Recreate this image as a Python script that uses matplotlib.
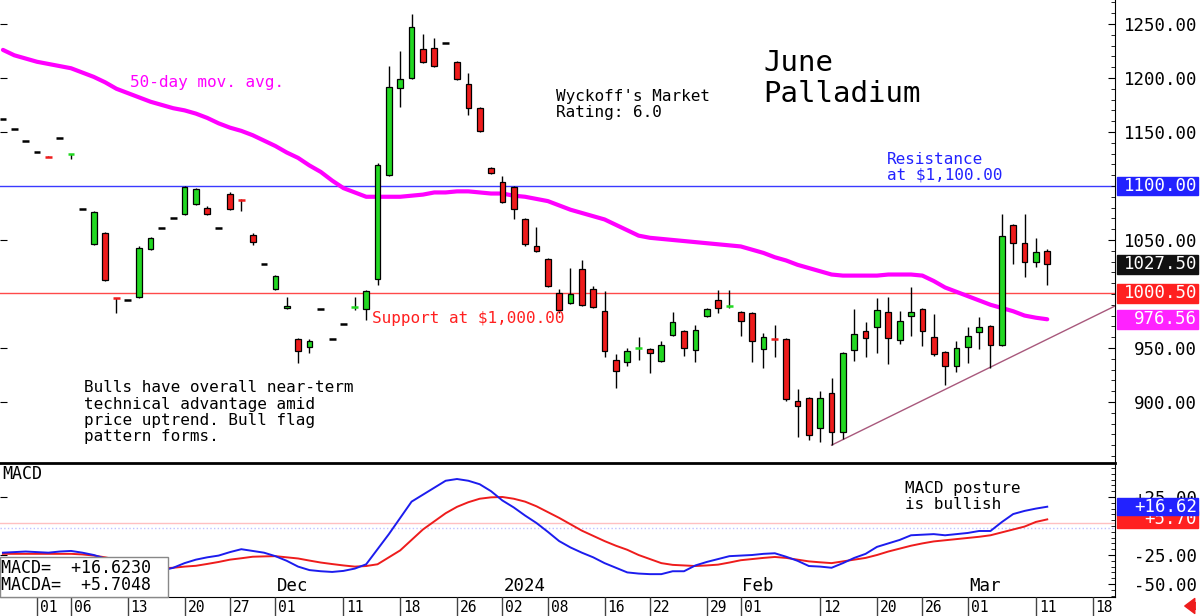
# June Palladium daily candles with 50-day MA and MACD panel
import matplotlib.pyplot as plt
from matplotlib.patches import Rectangle, FancyArrowPatch
from matplotlib.ticker import MultipleLocator, FixedLocator, FuncFormatter
from matplotlib.transforms import blended_transform_factory

plt.rcParams['font.family'] = ['DejaVu Sans Mono', 'DejaVu Sans']

# ---- data, one entry per trading day ----
opens = [1162, 1153, 1142, 1131, 1128, 1144, 1129.5, 1079, 1046, 1056,
         996.5, 994, 997, 1042, 1061, 1070, 1074, 1083, 1080, 1061,
         1093, 1087.5, 1055, 1028, 1005, 987, 958, 951, 986, 958,
         972, 987.5, 986, 1014, 1110, 1191, 1200, 1227, 1228, 1232,
         1215, 1194, 1172, 1117, 1104, 1099, 1069, 1044, 1032, 1001,
         992, 1023, 1005, 984, 939, 937, 949.5, 949, 938, 962,
         966, 948, 980, 994, 988.5, 983, 982, 949, 958.5, 958,
         901, 904, 876, 908, 872, 948, 966, 969, 983, 957,
         980, 986, 960, 946, 933, 951, 965, 970, 953, 1064,
         1047, 1030, 1040]
highs = [1162, 1153, 1142, 1131, 1128, 1144, 1130, 1079, 1077, 1057,
         996.5, 994, 1044, 1053, 1061, 1070, 1100, 1098, 1081, 1061,
         1094, 1087.5, 1056, 1028, 1018, 997, 959, 958, 986, 958,
         972, 997, 1004, 1121, 1211, 1225, 1259, 1241, 1237, 1232,
         1216, 1205, 1173, 1118, 1109, 1100, 1070, 1062, 1033, 1005,
         1024, 1031, 1007, 1003, 944, 950, 960, 950, 956, 983,
         967, 971, 987, 1004, 1004, 984, 983, 964, 971, 959,
         912, 905, 910, 922, 946, 986, 974, 996, 997, 984,
         1006, 987, 981, 947, 956, 969, 979, 971, 1074, 1065,
         1074, 1052, 1042]
lows = [1162, 1153, 1142, 1131, 1126.5, 1144, 1125, 1079, 1045, 1012,
        982, 994, 996, 1041, 1061, 1070, 1073, 1082, 1073, 1061,
        1078, 1077, 1045, 1028, 1004, 986, 936, 945, 986, 958,
        972, 985, 976, 1008, 1109, 1173, 1199, 1214, 1210, 1232,
        1198, 1166, 1150, 1111, 1084, 1069, 1044, 1039, 1006, 982,
        991, 989, 987, 942, 913, 933, 939, 927, 937, 961,
        943, 937, 979, 982, 987, 961, 937, 931, 942, 901,
        868, 865, 863, 860, 866, 938, 942, 945, 935, 954,
        961, 952, 943, 916, 928, 936, 949, 931, 952, 1028,
        1016, 1025, 1008]
closes = [1162, 1153, 1142, 1131, 1127, 1144, 1130, 1079, 1076, 1013,
          996, 994, 1043, 1052, 1061, 1070, 1099, 1097, 1074, 1061,
          1079, 1087, 1048, 1028, 1017, 989, 947, 956, 986, 958,
          972, 988, 1003, 1119, 1192, 1199, 1247, 1215, 1211, 1232,
          1199, 1172, 1151, 1112, 1085, 1079, 1046, 1040, 1007, 985,
          1000, 990, 988, 947, 929, 947, 950, 945, 953, 974,
          950, 967, 986, 987, 989, 975, 956, 960, 958, 903,
          896, 869, 904, 872, 945, 963, 959, 985, 959, 975,
          983, 966, 944, 933, 950, 961, 969, 953, 1054, 1047,
          1030, 1039, 1027.5]
ma50 = [1226, 1221, 1218, 1215, 1213, 1211, 1209, 1205, 1201, 1196,
        1190, 1186, 1182, 1178, 1175, 1172, 1170, 1167, 1163, 1158,
        1154, 1151, 1147, 1142, 1137, 1131, 1126, 1119, 1113, 1105,
        1098, 1094, 1090, 1090, 1090, 1090, 1091, 1092, 1094, 1094,
        1095, 1095, 1094, 1093, 1093, 1091, 1090, 1088, 1086, 1082,
        1078, 1075, 1072, 1069, 1064, 1059, 1054, 1052, 1051, 1050,
        1049, 1048, 1047, 1046, 1045, 1044, 1041, 1038, 1034, 1031,
        1027, 1024, 1021, 1018, 1017, 1017, 1017, 1017, 1018, 1018,
        1018, 1017, 1012, 1006, 1002, 998, 994, 990, 987, 984,
        980, 978, 976.56]
macd = [-23, -22.5, -22, -22.5, -23, -22, -21.5, -23, -25, -28,
        -31, -34, -36, -38.5, -38.5, -36, -32, -29, -27, -25.5,
        -22.5, -20, -21.5, -23, -26, -30, -35, -38, -39, -39.6,
        -38.7, -36.7, -33, -20, -7, 7, 21, 27, 33, 39,
        40.5, 39, 36, 30, 22, 16, 9, 2.6, -5, -13,
        -18.5, -23, -27, -32, -36, -40, -41, -41.5, -41.5, -39,
        -39, -34, -31, -28.5, -26, -25.5, -25, -24, -23.5, -26.5,
        -30, -34.5, -35, -36, -32, -27.5, -24, -18, -15, -12,
        -8, -7.5, -7, -8, -7, -6, -4.3, -4.3, 3.4, 10.3,
        13, 15, 16.62]
macd_avg = [-24, -24, -24, -24, -24, -24, -24, -24.5, -25.5, -27,
            -29, -31, -33, -35, -36.5, -36, -35, -34.3, -32.7, -31,
            -29, -27.8, -26.5, -26.2, -26, -27, -28, -29.8, -31.5, -32.8,
            -34, -35, -34.5, -33, -27, -21, -12, -3, 4, 11,
            16.5, 20.5, 23.5, 24.7, 25, 23.5, 21, 17, 12, 7,
            1.5, -4, -8.5, -13, -17, -20.5, -25, -28.5, -32, -33.5,
            -34, -34.5, -34, -33.3, -31.5, -29.5, -28.5, -27.5, -26.7, -27.5,
            -29, -30.5, -31.3, -32, -30.5, -29, -27.5, -25, -22, -19.5,
            -17, -15, -13.3, -12.3, -11.3, -10.3, -9.3, -8, -5.5, -3,
            -0.5, 3.5, 5.70]
tick_days = [3, 6, 11, 16, 20, 24, 30, 35, 40, 44, 48,
             53, 57, 62, 65, 72, 77, 81, 85, 91, 96]
tick_labels = ["01", "06", "13", "20", "27", "01", "11", "18", "26", "02", "08",
               "16", "22", "29", "01", "12", "20", "26", "01", "11", "18"]
month_days = [24, 44, 65, 85]
month_labels = ["Dec", "2024", "Feb", "Mar"]
price_ticks = [900, 950, 1050, 1150, 1200, 1250]
macd_ticks = [25, -25, -50]
trend_days = [73, 98]
trend_prices = [860, 989]
resistance = 1100.0
support = 1000.5

GREEN = "#22d822"
RED = "#ee1c1c"
W, H = 1200, 616


def fx(px):
    return px / W


def fy(py):
    return 1 - py / H


fig = plt.figure(figsize=(12, 6.16), dpi=100)
right = fx(1115)
ax = fig.add_axes([0, fy(462), right, fy(0) - fy(462)])
axm = fig.add_axes([0, fy(597), right, fy(463) - fy(597)])
axd = fig.add_axes([0, 0, right, fy(597)])
xlim = (-0.26, 97.97)

# ---- price panel ----
days = list(range(len(closes)))
ax.axhline(resistance, color="#3a3aff", lw=1, zorder=1)
ax.axhline(support, color="#ff4a4a", lw=1, zorder=1)
ax.plot(days, ma50, color="#ff00ff", lw=3, zorder=2, solid_capstyle="round")
ax.plot(trend_days, trend_prices, color="#a8587c", lw=1, zorder=2)

for i in days:
    o, h, l, c = opens[i], highs[i], lows[i], closes[i]
    if h > l:
        ax.vlines(i, l, h, color="black", lw=1, zorder=3)
    if abs(c - o) <= 1:
        col = "black" if h == l else (GREEN if c >= o else RED)
        ax.hlines(c, i - 0.3, i + 0.3, color=col, lw=1.8, zorder=4)
    else:
        ax.bar(i, c - o, bottom=o, width=0.5, color=GREEN if c > o else RED,
               edgecolor="black", linewidth=0.9, zorder=4)

ax.set_xlim(*xlim)
ax.set_ylim(844.4, 1272.2)
ax.set_xticks([])
for s in ["top", "left", "bottom"]:
    ax.spines[s].set_visible(False)
ax.yaxis.tick_right()
ax.yaxis.set_major_locator(FixedLocator(price_ticks))
ax.yaxis.set_minor_locator(MultipleLocator(10))
ax.yaxis.set_major_formatter(FuncFormatter(lambda v, p: "%.2f" % v))
ax.tick_params(axis="y", which="both", direction="in", left=True, right=True,
               labelleft=False, labelsize=12.5, pad=59)
ax.tick_params(axis="y", which="major", length=5)
ax.tick_params(axis="y", which="minor", length=3, left=False)
for lab in ax.get_yticklabels():
    lab.set_horizontalalignment("right")


def value_box(axis, value, text, color, height, z=6):
    tr = blended_transform_factory(fig.transFigure, axis.transData)
    axis.add_patch(Rectangle((fx(1117), value - height / 2), fx(1198) - fx(1117), height,
                             transform=tr, color=color, clip_on=False, zorder=z))
    axis.text(fx(1197), value, text, transform=tr, ha="right", va="center",
              color="white", fontsize=12.5, clip_on=False, zorder=z + 0.5)


value_box(ax, resistance, "%.2f" % resistance, "#2222ff", 17.5)
value_box(ax, closes[-1], "%.2f" % closes[-1], "#111111", 17.5)
value_box(ax, support, "%.2f" % support, "#ff2020", 17.5)
value_box(ax, ma50[-1], "%.2f" % ma50[-1], "#ff22ff", 17.5)

# ---- MACD panel ----
axm.axhline(2.5, color="#ffc0c0", lw=1)
axm.axhline(-1.5, color="#c0c0ff", lw=1, ls=":")
axm.plot(days, macd_avg, color="#ee1c1c", lw=1.4)
axm.plot(days, macd, color="#1c1cee", lw=1.4)
axm.set_xlim(*xlim)
axm.set_ylim(-61.2, 54.3)
axm.set_xticks([])
axm.spines["left"].set_visible(False)
axm.spines["top"].set_linewidth(2)
axm.yaxis.tick_right()
axm.yaxis.set_major_locator(FixedLocator(macd_ticks))
axm.yaxis.set_minor_locator(MultipleLocator(5))
axm.yaxis.set_major_formatter(FuncFormatter(lambda v, p: "%+.2f" % v))
axm.tick_params(axis="y", which="both", direction="in", left=True, right=True,
                labelleft=False, labelsize=12.5, pad=59)
axm.tick_params(axis="y", which="major", length=5)
axm.tick_params(axis="y", which="minor", length=3, left=False)
for lab in axm.get_yticklabels():
    lab.set_horizontalalignment("right")
value_box(axm, macd_avg[-1], "%+.2f" % macd_avg[-1], "#ff2020", 15, z=6)
value_box(axm, macd[-1], "%+.2f" % macd[-1], "#2222ff", 15, z=7)

for d, m in zip(month_days, month_labels):
    axm.text(d + 0.15, -51.7, m, fontsize=12.5, va="center", ha="left")

# ---- date strip ----
axd.set_xlim(*xlim)
axd.set_ylim(0, 1)
axd.axis("off")
axd.vlines(tick_days, 0, 1, color="#444444", lw=1)
for d, t in zip(tick_days, tick_labels):
    axd.text(d + 0.25, 0.45, t, fontsize=10.5, va="center", ha="left")


# ---- annotations ----
def label(lines, x, y0, step, size, color="black"):
    for k, line in enumerate(lines):
        fig.text(fx(x), fy(y0 + k * step), line, fontsize=size, color=color,
                 va="center", ha="left")


label(["50-day mov. avg."], 130, 82, 0, 11.5, "#ff00ff")
label(["Wyckoff's Market", "Rating: 6.0"], 556, 97, 16, 11.5)
label(["June", "Palladium"], 763, 63, 31, 21)
label(["Resistance", "at $1,100.00"], 887, 159, 16, 11.5, "#2222ff")
label(["Support at $1,000.00"], 372, 318, 0, 11.5, "#ff2020")
label(["Bulls have overall near-term", "technical advantage amid",
       "price uptrend. Bull flag", "pattern forms."], 84, 388, 16.3, 11.5)
label(["MACD posture", "is bullish"], 905, 489, 15.5, 11.5)
label(["MACD"], 2, 474, 0, 12)

fig.patches.append(Rectangle((0, fy(597)), fx(168), fy(557) - fy(597),
                             transform=fig.transFigure, facecolor="white",
                             edgecolor="#888888", lw=1, zorder=1))
label(["MACD=  %+.4f" % 16.6230, "MACDA=  %+.4f" % 5.7048], 1, 568, 17, 12)

fig.patches.append(FancyArrowPatch((fx(1198), fy(606)), (fx(1182), fy(606)),
                                   transform=fig.transFigure, color="#ee1c1c",
                                   arrowstyle="simple,head_length=0.6,head_width=0.9,tail_width=0.4",
                                   mutation_scale=12, zorder=2))

fig.savefig("out.png", dpi=100)
